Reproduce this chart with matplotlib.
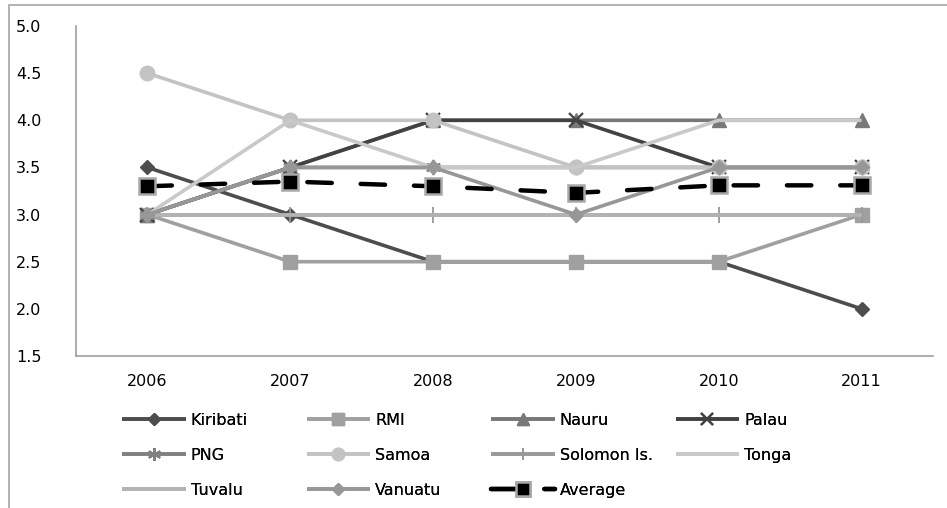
import matplotlib
matplotlib.use("Agg")
import matplotlib.pyplot as plt
from matplotlib.patches import Rectangle

years = ['2006', '2007', '2008', '2009', '2010', '2011']
kiribati = [3.5, 3.0, 2.5, 2.5, 2.5, 2.0]
rmi = [3.0, 2.5, 2.5, 2.5, 2.5, 3.0]
nauru = [3.0, 3.5, 4.0, 4.0, 4.0, 4.0]
palau = [3.0, 3.5, 4.0, 4.0, 3.5, 3.5]
png = [3.0, 3.5, 3.5, 3.5, 3.5, 3.5]
samoa = [4.5, 4.0, 4.0, 3.5, 3.5, 3.5]
solomon = [3.0, 3.0, 3.0, 3.0, 3.0, 3.0]
tonga = [3.0, 4.0, 3.5, 3.5, 4.0, 4.0]
tuvalu = [3.0, 3.0, 3.0, 3.0, 3.0, 3.0]
vanuatu = [3.0, 3.5, 3.5, 3.0, 3.5, 3.5]
average = [3.30, 3.35, 3.30, 3.23, 3.31, 3.31]
yticks = [1.5, 2.0, 2.5, 3.0, 3.5, 4.0, 4.5, 5.0]

plt.rcParams['font.family'] = ['DejaVu Sans']
FS = 11.5

W, H = 947, 508
fig = plt.figure(figsize=(W / 100, H / 100), dpi=100)

# chart frame
fig.patches.append(Rectangle((9 / W, -0.1), 1.2, 1.1 - 5 / H, transform=fig.transFigure,
                             fill=False, edgecolor='#a6a6a6', linewidth=1.2, zorder=0))

ax = fig.add_axes([76 / W, 1 - 356 / H, 857 / W, 330 / H])
x = list(range(len(years)))

lw = 2.6
specs = [
    ('Kiribati', kiribati, '#4d4d4d', 'D', 7.5, {}),
    ('RMI', rmi, '#a0a0a0', 's', 10, {}),
    ('Nauru', nauru, '#787878', '^', 10, {}),
    ('Palau', palau, '#424242', 'x', 10, {'markeredgewidth': 1.6}),
    ('PNG', png, '#808080', (6, 2, 0), 11, {'markeredgewidth': 1.3}),
    ('Samoa', samoa, '#c3c3c3', 'o', 10.5, {}),
    ('Solomon Is.', solomon, '#999999', '|', 11, {'markeredgewidth': 1.3}),
    ('Tonga', tonga, '#c9c9c9', None, 0, {}),
    ('Tuvalu', tuvalu, '#b3b3b3', None, 0, {}),
    ('Vanuatu', vanuatu, '#979797', 'D', 7.5, {}),
]
lines = {}
for name, vals, col, mk, ms, extra in specs:
    kw = dict(color=col, linewidth=lw, solid_capstyle='butt')
    if mk is not None:
        kw.update(marker=mk, markersize=ms, markerfacecolor=col, markeredgecolor=col)
        kw.update(extra)
    ln, = ax.plot(x, vals, label=name, **kw)
    lines[name] = ln

ln, = ax.plot(x, average, label='Average', color='black', linewidth=3.2,
              linestyle=(0, (5.5, 6.5)), dash_capstyle='round',
              marker='s', markersize=11.5, markerfacecolor='black',
              markeredgecolor='#a8a8a8', markeredgewidth=1.8)
lines['Average'] = ln

ax.set_xlim(-0.5, 5.5)
ax.set_ylim(1.5, 5.0)
ax.set_xticks(x)
ax.set_xticklabels(years)
ax.set_yticks(yticks)
ax.set_yticklabels([f'{v:.1f}' for v in yticks])
ax.tick_params(axis='both', length=0, labelsize=FS, colors='black')
ax.tick_params(axis='y', pad=25)
ax.tick_params(axis='x', pad=13)
for s in ['top', 'right']:
    ax.spines[s].set_visible(False)
for s in ['left', 'bottom']:
    ax.spines[s].set_color('#a0a0a0')
    ax.spines[s].set_linewidth(1.2)

columns = [
    ['Kiribati', 'PNG', 'Tuvalu'],
    ['RMI', 'Samoa', 'Vanuatu'],
    ['Nauru', 'Solomon Is.', 'Average'],
    ['Palau', 'Tonga'],
]
col_x = [122, 306.5, 491, 675.5]
for cx, names in zip(col_x, columns):
    leg = fig.legend([lines[n] for n in names], names, loc='upper left',
                     bbox_to_anchor=(cx / W, 1 - 413 / H), bbox_transform=fig.transFigure,
                     frameon=False, borderpad=0, borderaxespad=0, handlelength=4.0,
                     handletextpad=0.3, labelspacing=1.25, numpoints=1, fontsize=FS,
                     markerscale=0.85)
    fig.add_artist(leg)

fig.savefig('out.png', dpi=100)
